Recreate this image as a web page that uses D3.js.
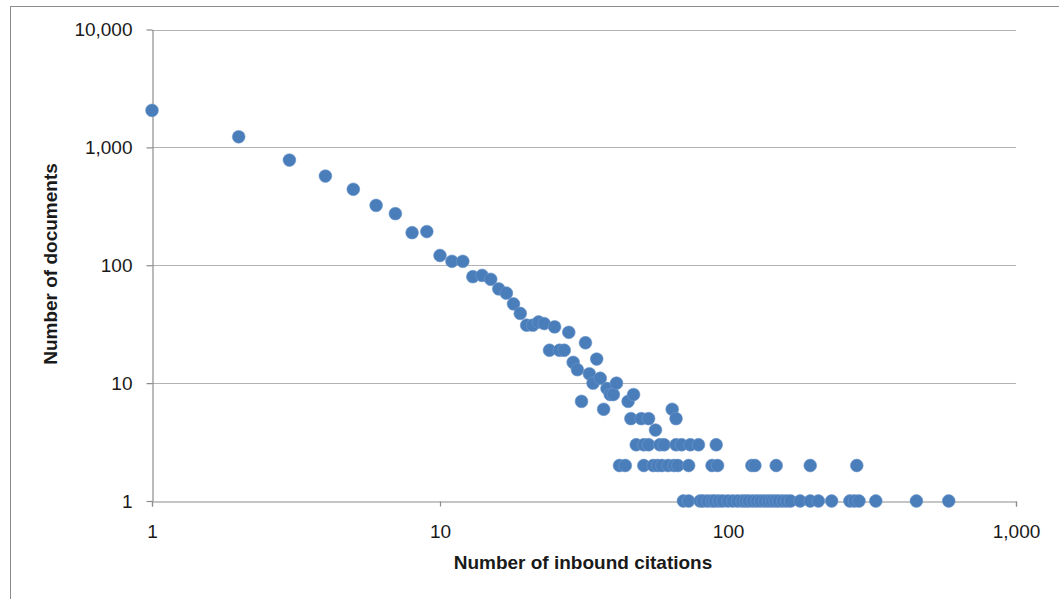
<!DOCTYPE html>
<html>
<head>
<meta charset="utf-8">
<script src="https://cdn.jsdelivr.net/npm/d3@7"></script>
<style>
  body { margin: 0; background: #fff; }
  svg { display: block; }
</style>
</head>
<body>
<div id="chart"></div>
<script>
// citations (x) and number of documents (y)
const headCitations = [1, 2, 3, 4, 5, 6, 7, 8, 9, 10, 11, 12, 13, 14, 15, 16, 17, 18, 19, 20,
  21, 22, 23, 24, 25, 26, 27, 28, 29, 30, 31, 32, 33, 34, 35, 36, 37, 38, 39, 40, 41, 45, 46, 47, 50, 53, 56, 64, 66];
const headDocuments = [2060, 1230, 780, 571, 441, 322, 274, 189, 193, 121, 108, 108, 80, 82, 76, 63, 58, 47, 39, 31,
  31, 33, 32, 19, 30, 19, 19, 27, 15, 13, 7, 22, 12, 10, 16, 11, 6, 9, 8, 8, 10, 7, 5, 8, 5, 5, 4, 6, 5];
const threeDocCitations = [48, 51, 53, 58, 60, 66, 69, 74, 79, 91];
const twoDocCitations = [42, 44, 51, 55, 57, 59, 62, 65, 67, 73, 88, 92, 121, 124, 147, 193, 280];
const oneDocCitations = [70, 73, 80, 82, 85, 88, 90, 93, 96, 100, 104, 108, 112, 115, 118, 122, 126, 130, 134,
  138, 142, 146, 150, 155, 160, 165, 178, 193, 206, 229, 265, 275, 285, 326, 451, 584];
const xTicks = [1, 10, 100, 1000];
const yTicks = [1, 10, 100, 1000, 10000];

const data = headCitations.map((c, i) => ({x: c, y: headDocuments[i]}))
  .concat(threeDocCitations.map(c => ({x: c, y: 3})))
  .concat(twoDocCitations.map(c => ({x: c, y: 2})))
  .concat(oneDocCitations.map(c => ({x: c, y: 1})));

const width = 1059, height = 599;
const margin = {top: 29.5, right: 43, bottom: 98, left: 152};
const fmt = d3.format(',');
const font = '"Liberation Sans", Arial, sans-serif';

const svg = d3.select('#chart').append('svg')
  .attr('width', width)
  .attr('height', height);

// outer chart frame
svg.append('rect')
  .attr('x', 10.5).attr('y', 6.5)
  .attr('width', width + 20).attr('height', height + 20)
  .attr('fill', 'none')
  .attr('stroke', '#8c8c8c');

const x = d3.scaleLog()
  .domain([1, 1000])
  .range([margin.left, width - margin.right]);

const y = d3.scaleLog()
  .domain([1, 10000])
  .range([height - margin.bottom, margin.top]);

// horizontal gridlines
svg.append('g')
  .selectAll('line')
  .data(yTicks.slice(1))
  .join('line')
  .attr('x1', x(1)).attr('x2', x(1000))
  .attr('y1', d => Math.round(y(d)) + 0.5).attr('y2', d => Math.round(y(d)) + 0.5)
  .attr('stroke', '#b3b3b3')
  .attr('stroke-width', 1.2);

const yAxis = g => g
  .attr('transform', `translate(${x(1) + 0.5},0)`)
  .call(d3.axisLeft(y).tickValues(yTicks).tickFormat(fmt).tickSizeInner(6).tickSizeOuter(0).tickPadding(14))
  .call(g => g.selectAll('line, path').attr('stroke', '#8c8c8c').attr('stroke-width', 1.2))
  .call(g => g.selectAll('text')
    .attr('font-family', font).attr('font-size', 19).attr('fill', '#1a1a1a'));

const xAxis = g => g
  .attr('transform', `translate(0,${Math.round(y(1)) + 0.5})`)
  .call(d3.axisBottom(x).tickValues(xTicks).tickFormat(fmt).tickSizeInner(5).tickSizeOuter(5).tickPadding(18))
  .call(g => g.selectAll('line, path').attr('stroke', '#8c8c8c').attr('stroke-width', 1.2))
  .call(g => g.selectAll('text')
    .attr('font-family', font).attr('font-size', 19).attr('fill', '#1a1a1a'));

svg.append('g').call(xAxis);
svg.append('g').call(yAxis);

// axis titles
svg.append('text')
  .attr('x', 583).attr('y', 569)
  .attr('text-anchor', 'middle')
  .attr('font-family', font).attr('font-size', 19).attr('font-weight', 'bold')
  .attr('fill', '#1a1a1a')
  .text('Number of inbound citations');

svg.append('text')
  .attr('transform', 'translate(57,264) rotate(-90)')
  .attr('text-anchor', 'middle')
  .attr('font-family', font).attr('font-size', 19).attr('font-weight', 'bold')
  .attr('fill', '#1a1a1a')
  .text('Number of documents');

// points
svg.append('g')
  .selectAll('circle')
  .data(data)
  .join('circle')
  .attr('cx', d => x(d.x))
  .attr('cy', d => y(d.y))
  .attr('r', 6.4)
  .attr('fill', '#4a7ebb')
  .attr('stroke', '#6f97c9')
  .attr('stroke-width', 0.6);
</script>
</body>
</html>
